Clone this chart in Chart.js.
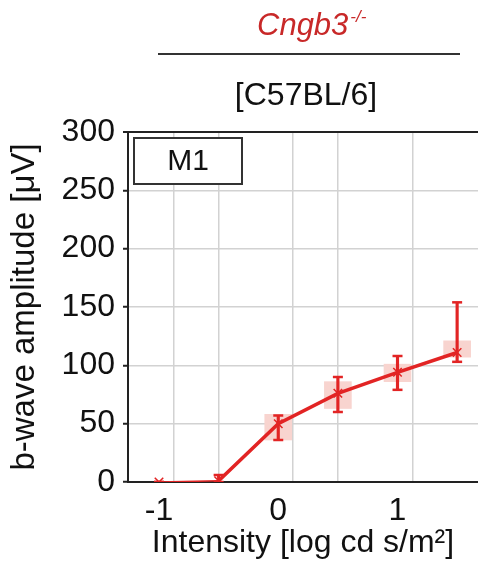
<!DOCTYPE html>
<html>
<head>
<meta charset="utf-8">
<script src="https://cdn.jsdelivr.net/npm/chart.js@4"></script>
<style>
  html, body { margin: 0; padding: 0; background: #fff; }
  #wrap { width: 478px; height: 565px; }
</style>
</head>
<body>
<div id="wrap"><canvas id="ergChart" width="478" height="565"></canvas></div>
<script>
// Dữ liệu (b-wave, M1)
const intensities = [-1, -0.5, 0, 0.5, 1, 1.5];
const meanAmp = [0, 1, 50, 76, 94, 111];
const boxLow = [null, null, 36, 63, 86, 107];
const boxHigh = [null, null, 58, 86, 101, 121];
const whiskerLow = [0, 0, 36, 60, 79, 103];
const whiskerHigh = [0, 6, 57, 90, 108, 154];
const yTicks = [0, 50, 100, 150, 200, 250, 300];
const xTickLabels = [-1, 0, 1];
const xGridLines = [-0.75, -0.25, 0.25, 0.75, 1.25];

const RED = "rgb(226, 36, 36)";
const PINK = "rgb(248, 212, 207)";
const FONT = "'Liberation Sans', Arial, sans-serif";

// Tiêu đề phía trên + hộp "M1"
const headerPlugin = {
    id: "header",
    afterDraw(chart) {
        const c = chart.ctx;
        c.save();
        c.fillStyle = "rgb(200, 40, 40)";
        c.textBaseline = "alphabetic";
        c.textAlign = "left";
        c.font = "italic 31px " + FONT;
        c.fillText("Cngb3", 257, 35);
        const w = c.measureText("Cngb3").width;
        c.font = "italic 17px " + FONT;
        c.fillText("-/-", 257 + w + 2, 22);

        c.strokeStyle = "#333";
        c.lineWidth = 2;
        c.beginPath();
        c.moveTo(158, 54);
        c.lineTo(460, 54);
        c.stroke();

        c.fillStyle = "#111";
        c.textAlign = "center";
        c.font = "32px " + FONT;
        c.fillText("[C57BL/6]", 306, 105);

        c.fillStyle = "#fff";
        c.fillRect(134, 138, 108, 46);
        c.strokeStyle = "#333";
        c.strokeRect(134, 138, 108, 46);
        c.fillStyle = "#111";
        c.textBaseline = "middle";
        c.font = "30px " + FONT;
        c.fillText("M1", 188, 162);
        c.restore();
    }
};

const pts = arr => intensities.map((x, i) => ({ x: x, y: arr[i] }));
const ranges = (lo, hi) => intensities.map((x, i) => ({ x: x, y: lo[i] === null ? null : [lo[i], hi[i]] }));
const tickVal = ctx => (ctx && ctx.tick) ? ctx.tick.value : null;

new Chart(document.getElementById("ergChart"), {
    type: "line",
    data: {
        datasets: [
            {
                label: "mean",
                data: pts(meanAmp),
                borderColor: RED,
                borderWidth: 3.5,
                segment: {
                    borderWidth: ctx => ctx.p0DataIndex === 0 ? 1.5 : 3.5
                },
                pointStyle: "crossRot",
                pointRadius: 6,
                pointBorderWidth: 1.5,
                pointBorderColor: RED,
                pointBackgroundColor: RED,
                tension: 0,
                order: 0
            },
            {
                type: "scatter",
                label: "capHigh",
                data: pts(whiskerHigh),
                pointStyle: "line",
                pointRadius: 5,
                pointBorderWidth: 2.5,
                borderColor: RED,
                order: 1
            },
            {
                type: "scatter",
                label: "capLow",
                data: pts(whiskerLow),
                pointStyle: "line",
                pointRadius: 5,
                pointBorderWidth: 2.5,
                borderColor: RED,
                order: 1
            },
            {
                type: "bar",
                label: "whisker",
                data: ranges(whiskerLow, whiskerHigh),
                backgroundColor: RED,
                barThickness: 2.5,
                grouped: false,
                order: 2
            },
            {
                type: "bar",
                label: "box",
                data: ranges(boxLow, boxHigh),
                backgroundColor: PINK,
                barThickness: 27,
                grouped: false,
                order: 3
            }
        ]
    },
    plugins: [headerPlugin],
    options: {
        responsive: false,
        animation: false,
        layout: { autoPadding: false, padding: { top: 132, right: 0, left: 0, bottom: 0 } },
        plugins: {
            legend: { display: false },
            tooltip: { enabled: false }
        },
        scales: {
            x: {
                type: "linear",
                min: -1.26,
                max: 1.675,
                offset: false,
                afterFit: s => { s.height = 83; },
                afterBuildTicks: s => {
                    s.ticks = xTickLabels.concat(xGridLines).sort((a, b) => a - b).map(v => ({ value: v }));
                },
                border: { color: "#222", width: 2 },
                grid: {
                    drawTicks: false,
                    lineWidth: 1.5,
                    color: ctx => xGridLines.includes(tickVal(ctx)) ? "#d2d2d2" : "rgba(0,0,0,0)"
                },
                ticks: {
                    autoSkip: false,
                    maxRotation: 0,
                    padding: 10,
                    color: "#111",
                    font: { family: FONT, size: 32 },
                    callback: v => xTickLabels.includes(v) ? String(v) : ""
                },
                title: {
                    display: true,
                    text: "Intensity [log cd s/m²]",
                    color: "#111",
                    font: { family: FONT, size: 32 },
                    padding: { top: 0, bottom: 3 }
                }
            },
            y: {
                type: "linear",
                min: 0,
                max: 300,
                afterFit: s => { s.width = 128; },
                afterBuildTicks: s => { s.ticks = yTicks.map(v => ({ value: v })); },
                border: { color: "#222", width: 2 },
                grid: {
                    tickLength: 5,
                    tickColor: "#222",
                    tickWidth: 2,
                    lineWidth: ctx => tickVal(ctx) === 300 ? 2 : 1.5,
                    color: ctx => tickVal(ctx) === 300 ? "#222" : "#d2d2d2"
                },
                ticks: {
                    padding: 8,
                    color: "#111",
                    font: { family: FONT, size: 32 }
                },
                title: {
                    display: true,
                    text: "b-wave amplitude [μV]",
                    color: "#111",
                    font: { family: FONT, size: 33 },
                    padding: { top: 5, bottom: 0 }
                }
            }
        }
    }
});
</script>
</body>
</html>
